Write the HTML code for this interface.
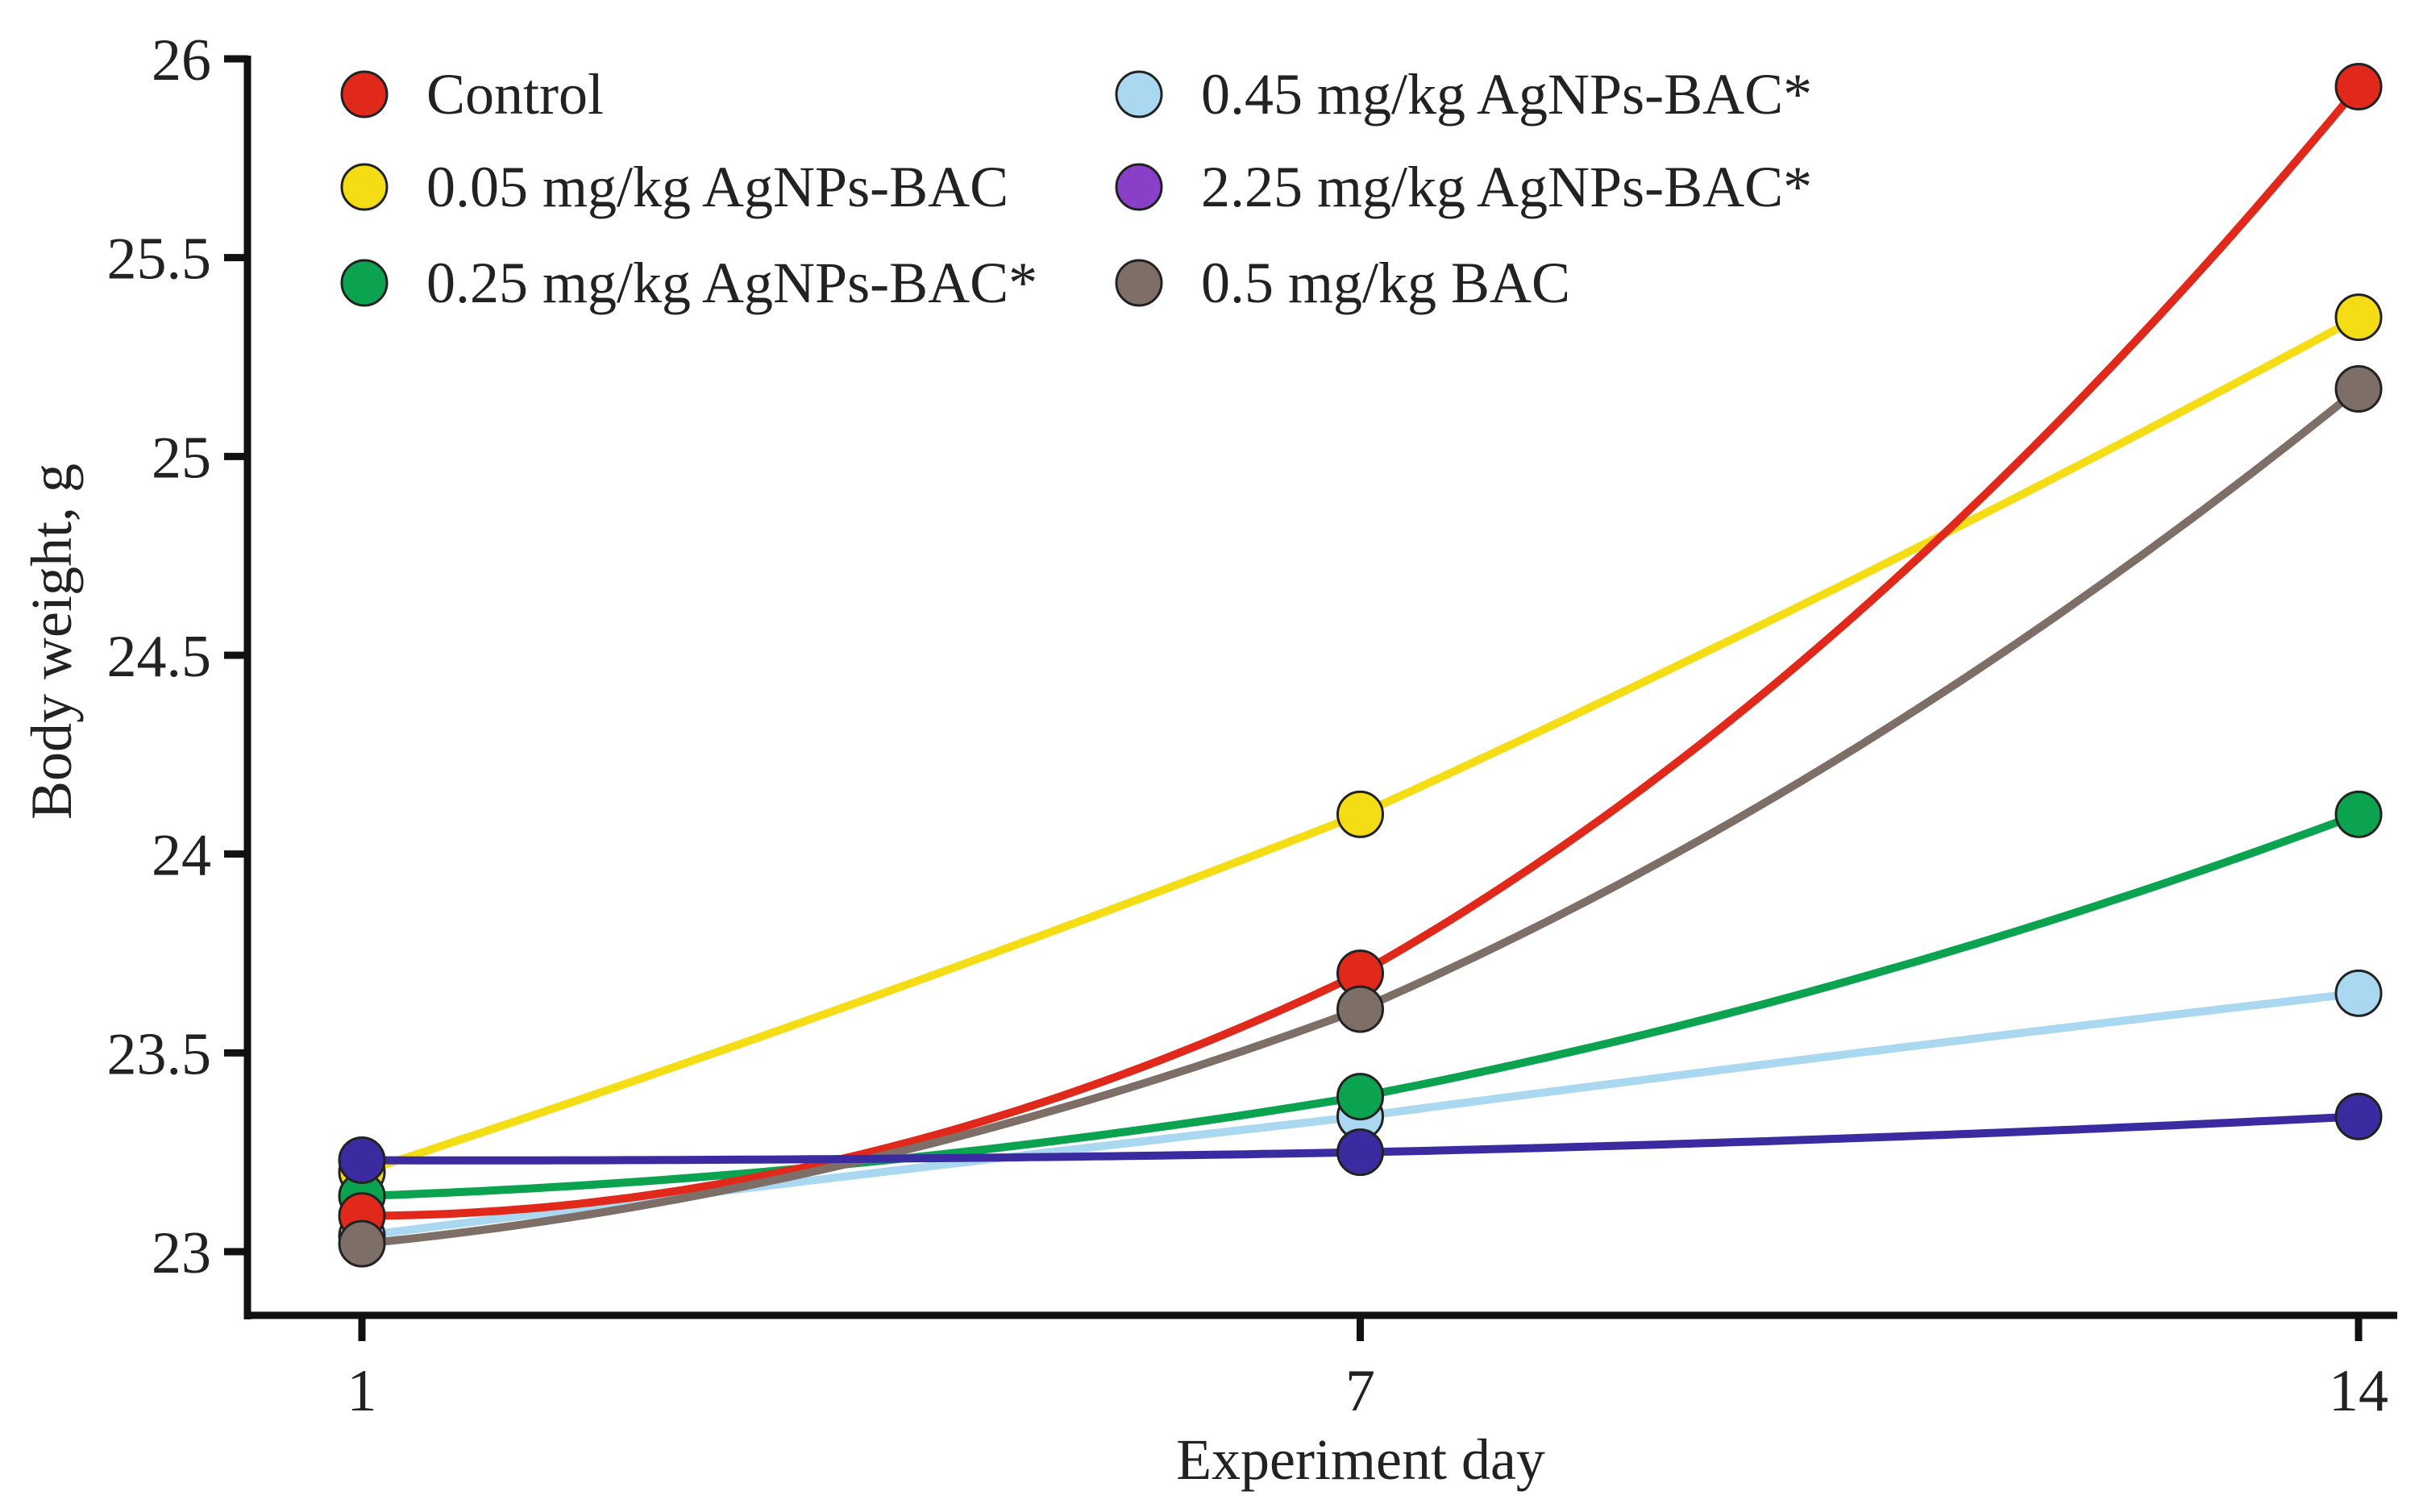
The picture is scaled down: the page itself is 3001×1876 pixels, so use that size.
<!DOCTYPE html>
<html><head><meta charset="utf-8"><style>
html,body{margin:0;padding:0;background:#fff;}
svg{display:block;font-family:"Liberation Serif",serif;}
</style></head><body>
<svg id="chart" width="3001" height="1876" viewBox="0 0 3001 1876" xmlns="http://www.w3.org/2000/svg">
<rect width="3001" height="1876" fill="#fff"/>
<g id="axes"></g><g id="series"></g><g id="legend"></g>
</svg>
<script>
const days = [1, 7, 14];
const seriesNames = ["Control","0.05 mg/kg AgNPs-BAC","0.25 mg/kg AgNPs-BAC*","0.45 mg/kg AgNPs-BAC*","2.25 mg/kg AgNPs-BAC*","0.5 mg/kg BAC"];
const controlVals = [23.09, 23.70, 25.93];
const bac005Vals = [23.20, 24.10, 25.35];
const bac025Vals = [23.14, 23.39, 24.10];
const bac045Vals = [23.04, 23.34, 23.65];
const bac225Vals = [23.23, 23.25, 23.34];
const bacOnlyVals = [23.02, 23.61, 25.17];
const yTicks = [23, 23.5, 24, 24.5, 25, 25.5, 26];
const yTickLabels = ["23","23.5","24","24.5","25","25.5","26"];
const xTickLabels = ["1","7","14"];

const NS="http://www.w3.org/2000/svg";
function mk(tag,attrs,parent){const e=document.createElementNS(NS,tag);for(const k in attrs)e.setAttribute(k,attrs[k]);parent.appendChild(e);return e;}
const X0=449,X1=2926,Y23=1553,Y26=73;
// categorical-equal spacing: position by index (interpolated fractional index for curves)
function xi(idx){return X0+idx/(days.length-1)*(X1-X0);}
function ys(v){return Y23-(v-23)/(26-23)*(Y23-Y26);}

const axes=document.getElementById('axes');
let yl=mk('line',{x1:307,y1:69,x2:307,y2:1637,stroke:'#111','stroke-width':9},axes);


let xl=mk('line',{x1:303,y1:1632,x2:2974,y2:1632,stroke:'#111','stroke-width':9},axes);


yTicks.forEach((t,i)=>{
  const y=ys(t);
  const tk=mk('line',{x1:278,y1:y,x2:307,y2:y,stroke:'#111','stroke-width':9},axes);
  
  
  const tx=mk('text',{x:262,y:y+26,'text-anchor':'end','font-size':74,fill:'#222'},axes);
  tx.textContent=yTickLabels[i];
  
  
});
days.forEach((d,i)=>{
  const x=xi(i);
  const tk=mk('line',{x1:x,y1:1632,x2:x,y2:1664,stroke:'#111','stroke-width':9},axes);
  
  
  const tx=mk('text',{x:x,y:1750,'text-anchor':'middle','font-size':74,fill:'#222'},axes);
  tx.textContent=xTickLabels[i];
  
  
});
let xt=mk('text',{x:1688,y:1835,'text-anchor':'middle','font-size':72,fill:'#222'},axes);
xt.textContent='Experiment day';


let yt=mk('text',{x:0,y:0,'text-anchor':'middle','font-size':72,fill:'#222',transform:'translate(88,796) rotate(-90)'},axes);
yt.textContent='Body weight, g';



const allVals=[controlVals,bac005Vals,bac025Vals,bac045Vals,bac225Vals,bacOnlyVals];
const lineColors=["#e0291b","#f5dd16","#0ba34f","#a9d8f0","#3a2ca0","#7d6f68"];
const markerColors=["#e0291b","#f5dd16","#0ba34f","#a9d8f0","#3a2ca0","#7d6f68"];
const legendColors=["#e0291b","#f5dd16","#0ba34f","#a9d8f0","#8a3fc8","#7d6f68"];
const seriesKeys=["control","bac-005","bac-025","bac-045","bac-225","bac-only"];
function interp(vals,d){
  let s=0;
  for(let i=0;i<3;i++){let t=vals[i];for(let j=0;j<3;j++){if(j!==i)t*=(d-days[j])/(days[i]-days[j]);}s+=t;}
  return s;
}
function dayToIdx(d){
  for(let i=0;i<days.length-1;i++){if(d<=days[i+1])return i+(d-days[i])/(days[i+1]-days[i]);}
  return days.length-1;
}
const sg=document.getElementById('series');
const drawOrder=[1,3,2,0,5,4];
drawOrder.forEach(si=>{
  const vals=allVals[si];
  let dstr='';
  for(let k=0;k<=130;k++){const d=days[0]+k*(days[2]-days[0])/130;dstr+=(k?'L':'M')+xi(dayToIdx(d)).toFixed(1)+' '+ys(interp(vals,d)).toFixed(1);}
  const p=mk('path',{d:dstr,fill:'none',stroke:lineColors[si],'stroke-width':10,'stroke-linejoin':'round'},sg);
  
  
});
drawOrder.forEach(si=>{
  allVals[si].forEach((v,i)=>{
    const c=mk('circle',{cx:xi(i),cy:ys(v),r:28,fill:markerColors[si],stroke:'#222','stroke-width':3},sg);
    
    
  });
});
const lg=document.getElementById('legend');
seriesNames.forEach((n,i)=>{
  const col=Math.floor(i/3),row=i%3;
  const cx=col?1413:452, cy=[117,232,351][row];
  const c=mk('circle',{cx:cx,cy:cy,r:28,fill:legendColors[i],stroke:'#222','stroke-width':3},lg);
  
  
  const t=mk('text',{x:cx+77,y:cy+24,'font-size':72,fill:'#222'},lg);
  t.textContent=n;
  
  
});
</script>
</body></html>
